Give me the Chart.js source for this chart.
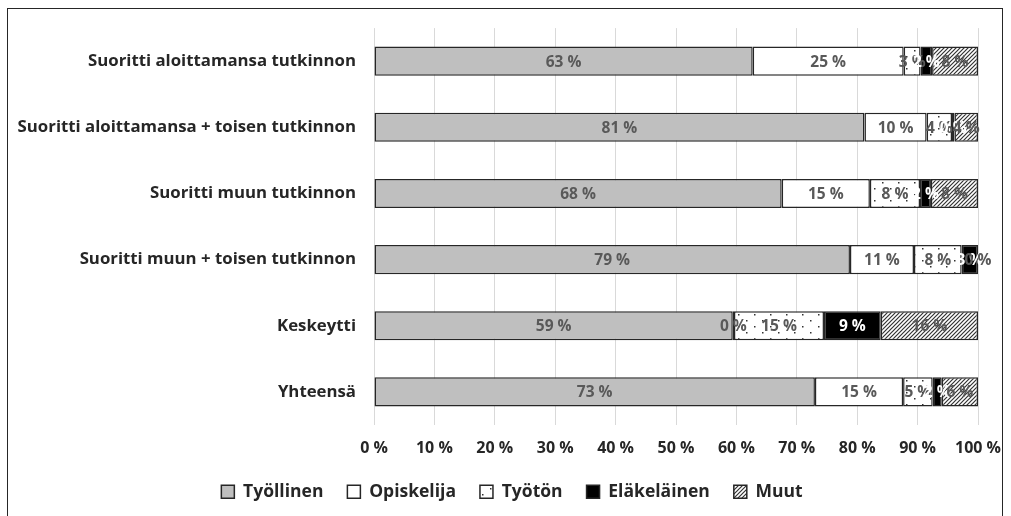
<!DOCTYPE html>
<html>
<head>
<meta charset="utf-8">
<script src="https://cdn.jsdelivr.net/npm/chart.js@4/dist/chart.umd.min.js"></script>
<style>
  html, body { margin: 0; padding: 0; background: #fff; }
  #wrap { position: relative; width: 1011px; height: 516px; }
  #frame { position: absolute; left: 7px; top: 8px; width: 996px; height: 520px; border: 1.5px solid #262626; box-sizing: border-box; }
  canvas { position: absolute; left: 0; top: 0; }
</style>
</head>
<body>
<div id="wrap">
  <div id="frame"></div>
  <canvas id="chart" width="1011" height="516"></canvas>
</div>
<script>
const categories = [
  "Suoritti aloittamansa tutkinnon",
  "Suoritti aloittamansa + toisen tutkinnon",
  "Suoritti muun tutkinnon",
  "Suoritti muun + toisen tutkinnon",
  "Keskeytti",
  "Yhteensä"
];
const seriesNames = ["Työllinen", "Opiskelija", "Työtön", "Eläkeläinen", "Muut"];
const tyollinen = [62.7, 81.2, 67.5, 78.8, 59.4, 73.0];
const opiskelija = [25.0, 10.3, 14.6, 10.6, 0.2, 14.6];
const tyoton = [2.8, 4.2, 8.3, 7.9, 14.9, 4.9];
const elakelainen = [1.9, 0.4, 1.8, 2.7, 9.4, 1.5];
const muut = [7.6, 3.9, 7.8, 0, 16.1, 6.0];
const xTicks = [0, 10, 20, 30, 40, 50, 60, 70, 80, 90, 100];

const FONT = "'Open Sans', 'Noto Sans', sans-serif";

function dotPattern() {
  const c = document.createElement("canvas");
  c.width = 16; c.height = 12;
  const g = c.getContext("2d");
  g.fillStyle = "#fff"; g.fillRect(0, 0, 16, 12);
  g.fillStyle = "#333";
  g.fillRect(2, 2, 1.5, 1.5);
  g.fillRect(10, 8, 1.5, 1.5);
  return g.createPattern(c, "repeat");
}
function hatchPattern() {
  const c = document.createElement("canvas");
  c.width = 4; c.height = 4;
  const g = c.getContext("2d");
  g.fillStyle = "#fff"; g.fillRect(0, 0, 4, 4);
  g.strokeStyle = "#333"; g.lineWidth = 1.2;
  g.beginPath();
  g.moveTo(0, 4); g.lineTo(4, 0);
  g.moveTo(-1, 1); g.lineTo(1, -1);
  g.moveTo(3, 5); g.lineTo(5, 3);
  g.stroke();
  return g.createPattern(c, "repeat");
}

const fills = ["#bfbfbf", "#ffffff", dotPattern(), "#000000", hatchPattern()];
const values = [tyollinen, opiskelija, tyoton, elakelainen, muut];
const labelColors = ["#595959", "#595959", "#595959", "#ffffff", "#595959"];

const datasets = seriesNames.map((name, i) => ({
  label: name,
  data: values[i],
  backgroundColor: fills[i],
  borderColor: "#262626",
  borderWidth: 1.5,
  borderSkipped: false,
  barPercentage: 0.44,
  categoryPercentage: 1.0
}));

// rounded percentage labels centred in each segment
const segmentLabels = {
  id: "segmentLabels",
  afterDatasetsDraw(chart) {
    const ctx = chart.ctx;
    ctx.save();
    ctx.font = "bold 15.5px " + FONT;
    ctx.textAlign = "center";
    ctx.textBaseline = "middle";
    chart.data.datasets.forEach((ds, i) => {
      chart.getDatasetMeta(i).data.forEach((bar, j) => {
        const p = bar.getProps(["x", "y", "base"], true);
        ctx.fillStyle = labelColors[i];
        ctx.fillText(Math.round(ds.data[j]) + " %", (p.x + p.base) / 2, p.y + 1);
      });
    });
    ctx.restore();
  }
};

// legend: fixed height, and nudged right to sit under the plot like the original
const legendPlace = {
  id: "legendPlace",
  beforeInit(chart) {
    const fit = chart.legend.fit;
    chart.legend.fit = function () {
      fit.call(this);
      this.height = 57;
    };
  },
  afterLayout(chart) {
    chart.legend.left += 18;
    chart.legend.right += 18;
  }
};

new Chart(document.getElementById("chart"), {
  type: "bar",
  data: { labels: categories, datasets: datasets },
  plugins: [segmentLabels, legendPlace],
  options: {
    indexAxis: "y",
    responsive: false,
    animation: false,
    layout: { padding: { left: 10, right: 33, top: 25, bottom: 0 } },
    scales: {
      x: {
        stacked: true,
        min: 0,
        max: 100,
        afterBuildTicks: (s) => { s.ticks = xTicks.map((v) => ({ value: v })); },
        afterFit: (s) => { s.height = 34; s.paddingRight = 0; s.paddingLeft = 0; },
        grid: { color: "#d9d9d9", lineWidth: 1, drawTicks: false },
        border: { display: false },
        ticks: {
          padding: 14,
          color: "#262626",
          font: { family: FONT, size: 16, weight: "bold" },
          callback: (v) => v + " %"
        }
      },
      y: {
        stacked: true,
        grid: { display: false, drawTicks: false },
        border: { display: false },
        afterFit: (s) => { s.width = 364; },
        ticks: {
          padding: 18,
          color: "#262626",
          font: { family: FONT, size: 16.8, weight: "bold" }
        }
      }
    },
    plugins: {
      legend: {
        position: "bottom",
        labels: {
          boxWidth: 13,
          boxHeight: 13,
          padding: 24,
          color: "#262626",
          font: { family: FONT, size: 17.5, weight: "bold" }
        }
      },
      tooltip: { enabled: false }
    }
  }
});
</script>
</body>
</html>
